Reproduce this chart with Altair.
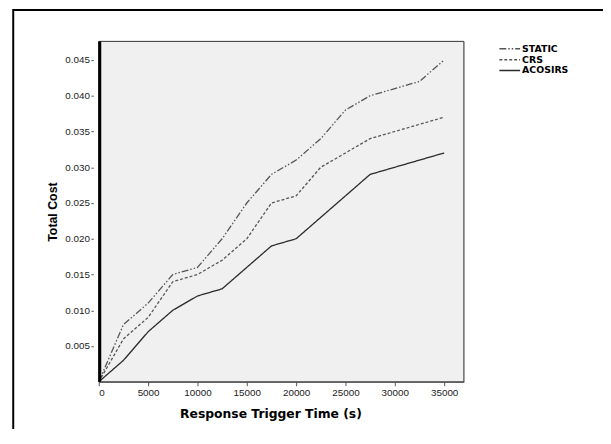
import altair as alt
import pandas as pd

# ---- data ----
x_vals = [0, 2500, 5000, 7500, 10000, 12500, 15000, 17500, 20000, 22500, 25000, 27500, 30000, 32500, 35000]
static_vals = [0, 0.008, 0.011, 0.015, 0.016, 0.020, 0.025, 0.029, 0.031, 0.034, 0.038, 0.040, 0.041, 0.042, 0.045]
crs_vals = [0, 0.006, 0.009, 0.014, 0.015, 0.017, 0.020, 0.025, 0.026, 0.030, 0.032, 0.034, 0.035, 0.036, 0.037]
acosirs_vals = [0, 0.003, 0.007, 0.010, 0.012, 0.013, 0.016, 0.019, 0.020, 0.023, 0.026, 0.029, 0.030, 0.031, 0.032]
series_names = ["STATIC", "CRS", "ACOSIRS"]
y_ticks = [0.005, 0.010, 0.015, 0.020, 0.025, 0.030, 0.035, 0.040, 0.045]
x_ticks = [0, 5000, 10000, 15000, 20000, 25000, 30000, 35000]

rows = []
for name, vals in zip(series_names, [static_vals, crs_vals, acosirs_vals]):
    for xv, yv in zip(x_vals, vals):
        rows.append({"x": xv, "value": yv, "series": name})
df = pd.DataFrame(rows)
leg_df = pd.DataFrame({"series": series_names})

W, H = 370, 345

color = alt.Color("series:N", scale=alt.Scale(domain=series_names,
                  range=["#555555", "#555555", "#2a2a2a"]), legend=None)
dash = alt.StrokeDash("series:N", scale=alt.Scale(domain=series_names,
                      range=[[7, 2, 1.5, 2, 1.5, 2], [3, 2], [1, 0]]), legend=None)

lines = alt.Chart(df).mark_line(strokeWidth=1.3).encode(
    x=alt.X("x:Q",
            scale=alt.Scale(domain=[0, 37000], nice=False, zero=False),
            axis=alt.Axis(values=x_ticks, format="d", title="Response Trigger Time (s)",
                          grid=False, domainColor="#555", domainWidth=1,
                          tickColor="#555", tickSize=4, labelPadding=2,
                          labelFont="Liberation Sans", labelFontSize=10, labelColor="#222",
                          titleFont="DejaVu Sans", titleFontSize=12.5, titleFontWeight="bold",
                          titleColor="#000", titleX=174, titleY=32, titleBaseline="middle",
                          titleAlign="center")),
    y=alt.Y("value:Q",
            scale=alt.Scale(domain=[0, 0.0476], nice=False),
            axis=alt.Axis(values=y_ticks, format=".3f", title="Total Cost",
                          grid=False, domain=False, offset=5.5,
                          tickColor="#555", tickSize=2.5, labelPadding=1.5,
                          labelFont="Liberation Sans", labelFontSize=10, labelColor="#222",
                          titleFont="Liberation Sans", titleFontSize=12.5, titleFontWeight="bold",
                          titleColor="#000", titleX=-41.5, titleY=H / 2,
                          titleBaseline="middle", titleAlign="center")),
    color=color,
    strokeDash=dash,
    order="x:Q",
)

bg = alt.Chart(alt.Data(values=[{}])).mark_rect(fill="#f0f0f0", stroke="#333", strokeWidth=1).encode(
    x=alt.value(0), x2=alt.value(W), y=alt.value(0), y2=alt.value(H)
)

frame = alt.Chart(alt.Data(values=[{}])).mark_rect(
    fillOpacity=0, stroke="black", strokeWidth=2
).encode(x=alt.value(-86.7), x2=alt.value(540), y=alt.value(-31.7), y2=alt.value(430))

yline = alt.Chart(alt.Data(values=[{}])).mark_rule(color="black", strokeWidth=3).encode(
    x=alt.value(1), y=alt.value(0), y2=alt.value(H)
)

leg_y = alt.Y("series:N", scale=alt.Scale(domain=series_names, range=[7.5, 29.5],
                                           type="point", padding=0), axis=None)
leg_rule = alt.Chart(leg_df).mark_rule(strokeWidth=1.5).encode(
    x=alt.value(406), x2=alt.value(427), y=leg_y, color=color, strokeDash=dash
)
leg_text = alt.Chart(leg_df).mark_text(
    align="left", baseline="middle", font="DejaVu Sans", fontWeight="bold",
    fontSize=9.5, color="#000"
).encode(x=alt.value(429), y=leg_y, text="series:N")

chart = alt.layer(frame, bg, lines, yline, leg_rule, leg_text).resolve_scale(
    y="independent"
).properties(
    width=W, height=H,
    autosize=alt.AutoSizeParams(type="none"),
    padding={"left": 92, "top": 31, "right": 141, "bottom": 45},
).configure_view(
    stroke=None
).configure(background="white")

chart.save("out.html", embed_options={"renderer": "svg", "actions": False})
